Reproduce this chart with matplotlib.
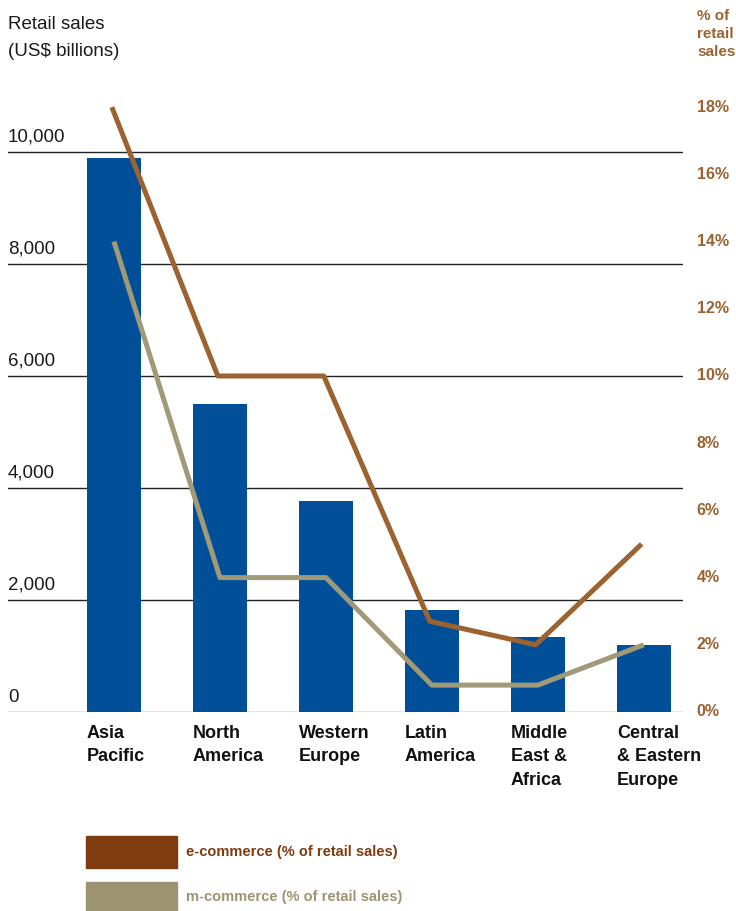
import numpy as np
import matplotlib
matplotlib.use('Agg')
import matplotlib.pyplot as plt
from matplotlib.patches import Rectangle

plt.rcParams['font.family'] = ['Liberation Sans', 'DejaVu Sans']

regions = ['Asia\nPacific', 'North\nAmerica', 'Western\nEurope', 'Latin\nAmerica',
           'Middle\nEast &\nAfrica', 'Central\n& Eastern\nEurope']
retail = [9900, 5500, 3770, 1820, 1340, 1200]          # US$ billions
ecom = [18.0, 10.0, 10.0, 2.7, 2.0, 5.0]                # % of retail sales
mcom = [14.0, 4.0, 4.0, 0.8, 0.8, 2.0]                  # % of retail sales
left_ticks = [0, 2000, 4000, 6000, 8000, 10000]
right_ticks = [0, 2, 4, 6, 8, 10, 12, 14, 16, 18]

bar_col = '#004f98'
e_line = '#9c6330'
m_line = '#a09a78'
e_patch = '#7e3c10'
m_patch = '#9e9474'
pct_col = '#9c6330'

W, H = 736, 911
fig = plt.figure(figsize=(W / 100, H / 100), dpi=100)

# axes pixel box: x 8..683, y(bottom)=712, top at 11000 -> 96
x0, x1 = 8, 683
yb, yt = 712, 96
ax = fig.add_axes([x0 / W, (H - yb) / H, (x1 - x0) / W, (yb - yt) / H])
ax.set_ylim(0, 11000)
ax.set_xlim(-1.0, 5.37)
for s in ax.spines.values():
    s.set_visible(False)
ax.set_xticks([])
ax.set_yticks([])

x = np.arange(len(regions))
for v in left_ticks:
    ax.axhline(v, color='#222222' if v else '#777777', lw=1.0, zorder=1)
    ax.text(-1.0, v + 110, format(v, ','), ha='left', va='bottom',
            fontsize=13.5, color='#1a1a1a')

ax.bar(x, retail, width=0.51, color=bar_col, zorder=2)

# right axis (% of retail sales), 1% == 600 on left scale
ax2 = ax.twinx()
ax2.set_ylim(0, 11000 / 600)
for s in ax2.spines.values():
    s.set_visible(False)
ax2.set_yticks([])
ax2.plot(x - 0.02, ecom, color=e_line, lw=3.6, zorder=3, solid_capstyle='butt')
ax2.plot(x, mcom, color=m_line, lw=3.6, zorder=3, solid_capstyle='butt')
for t in right_ticks:
    ax2.text(1.02, t / (11000 / 600), '%d%%' % t, transform=ax2.transAxes,
             ha='left', va='center', fontsize=11.5, fontweight='bold', color=pct_col)

# category labels, left aligned with bars
for i, lab in enumerate(regions):
    ax.text(i - 0.255, -230, lab, ha='left', va='top', fontsize=13,
            fontweight='bold', color='#111111', linespacing=1.5)

# axis titles
fig.text(8 / W, 1 - 16 / H, 'Retail sales\n(US$ billions)', ha='left', va='top',
         fontsize=13.5, color='#1a1a1a', linespacing=1.75)
fig.text(697 / W, 1 - 9 / H, '% of\nretail\nsales', ha='left', va='top',
         fontsize=11, fontweight='bold', color=pct_col, linespacing=1.35)

# legend
fig.patches.append(Rectangle((86 / W, 1 - 868 / H), 91 / W, 32 / H,
                             transform=fig.transFigure, color=e_patch))
fig.patches.append(Rectangle((86 / W, 1 - 911 / H), 91 / W, 29 / H,
                             transform=fig.transFigure, color=m_patch))
fig.text(186 / W, 1 - 852 / H, 'e-commerce (% of retail sales)', ha='left', va='center',
         fontsize=10.5, fontweight='bold', color=e_patch)
fig.text(186 / W, 1 - 897 / H, 'm-commerce (% of retail sales)', ha='left', va='center',
         fontsize=10.5, fontweight='bold', color=m_patch)

fig.savefig('out.png', dpi=100)
